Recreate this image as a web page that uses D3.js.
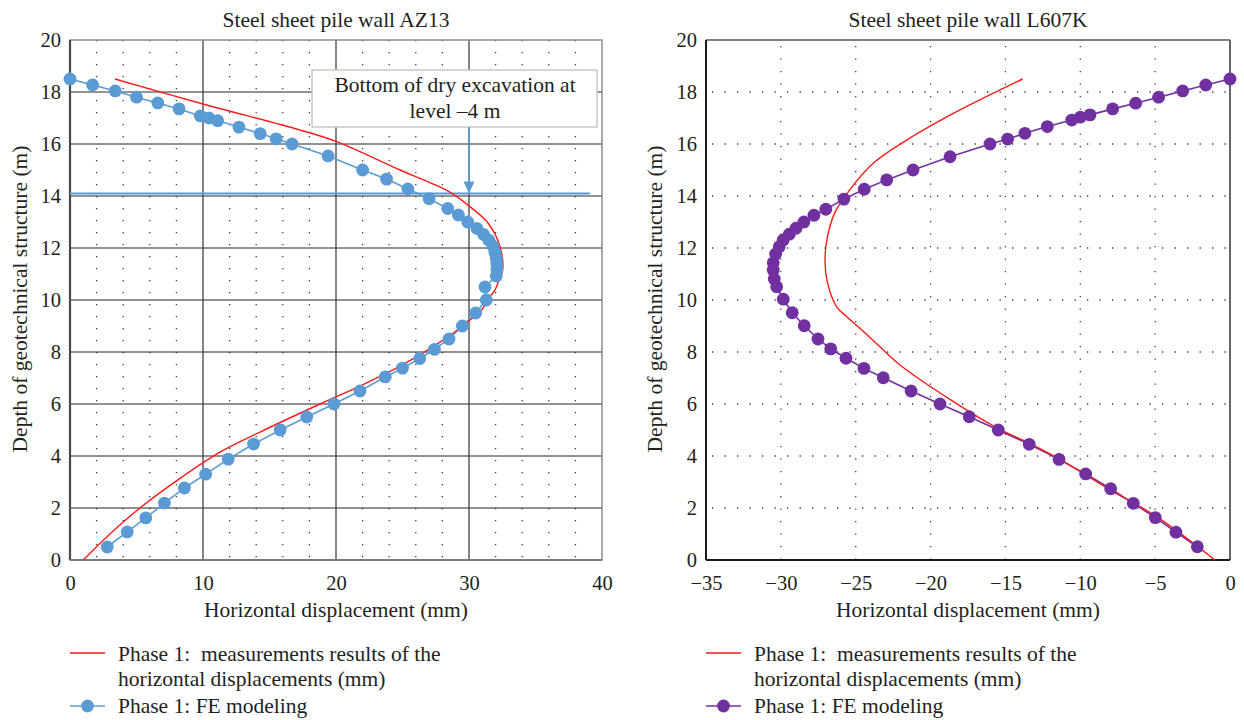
<!DOCTYPE html>
<html>
<head>
<meta charset="utf-8">
<script src="https://cdn.jsdelivr.net/npm/d3@7"></script>
<style>
body { margin: 0; background: #fff; }
text { font-family: "Liberation Serif", "DejaVu Serif", serif; fill: #231f20; }
</style>
</head>
<body>
<svg id="chart" width="1244" height="720"></svg>
<script>
// depth ticks (m) shared by both panels
var depthTicks = [0, 2, 4, 6, 8, 10, 12, 14, 16, 18, 20];
var azTicks = [0, 10, 20, 30, 40];
var lTicks = [-35, -30, -25, -20, -15, -10, -5, 0];

// AZ13: FE modeling [displacement mm, depth m]
var azFE = [
    [0, 18.5], [1.7, 18.27], [3.4, 18.04], [5.0, 17.8], [6.6, 17.58], [8.2, 17.35],
    [9.8, 17.08], [10.45, 17.0], [11.1, 16.9], [12.7, 16.65], [14.3, 16.4], [15.5, 16.2],
    [16.7, 16.0], [19.4, 15.54], [22.0, 15.0], [23.8, 14.65], [25.4, 14.27], [27.0, 13.9],
    [28.4, 13.52], [29.2, 13.27], [29.9, 13.0], [30.6, 12.75], [31.1, 12.52], [31.5, 12.3],
    [31.8, 12.07], [31.95, 11.84], [32.05, 11.6], [32.1, 11.38], [32.1, 11.15], [32.05, 10.92],
    [31.2, 10.5], [31.3, 10.0], [30.5, 9.5], [29.5, 9.0], [28.5, 8.5], [27.4, 8.1],
    [26.3, 7.75], [25.0, 7.38], [23.7, 7.04], [21.8, 6.5], [19.85, 6.0], [17.8, 5.5],
    [15.8, 5.0], [13.8, 4.46], [11.9, 3.88], [10.2, 3.3], [8.6, 2.77], [7.1, 2.19],
    [5.7, 1.62], [4.3, 1.08], [2.8, 0.5]
];

// AZ13: measurement results
var azMeasured = [
    [3.38, 18.5], [10.0, 17.54], [17.29, 16.54], [20.05, 16.09], [24.81, 15.0], [27.32, 14.46],
    [28.72, 14.1], [29.92, 13.65], [31.43, 12.96], [32.33, 12.05], [32.53, 11.15], [32.26, 10.77],
    [31.95, 10.38], [31.58, 10.13], [30.95, 9.62], [30.08, 9.23], [28.8, 8.72], [27.67, 8.33],
    [26.07, 7.82], [24.29, 7.31], [21.8, 6.69], [18.8, 6.0], [14.29, 4.92], [11.28, 4.15],
    [8.27, 3.14], [5.26, 2.0], [3.0, 1.0], [1.0, 0]
];

// L607K: FE modeling
var lFE = [
    [0, 18.5], [-1.62, 18.27], [-3.16, 18.04], [-4.77, 17.8], [-6.3, 17.57], [-7.84, 17.35],
    [-9.35, 17.12], [-10.0, 17.03], [-10.57, 16.92], [-12.2, 16.67], [-13.7, 16.41], [-14.85, 16.19],
    [-16.03, 16.0], [-18.7, 15.51], [-21.17, 15.0], [-22.93, 14.62], [-24.43, 14.26], [-25.79, 13.88],
    [-27.0, 13.49], [-27.79, 13.26], [-28.46, 13.0], [-28.99, 12.76], [-29.44, 12.53], [-29.84, 12.31],
    [-30.11, 12.05], [-30.35, 11.77], [-30.51, 11.43], [-30.51, 11.15], [-30.44, 10.81], [-30.28, 10.51],
    [-29.84, 10.03], [-29.24, 9.51], [-28.44, 9.01], [-27.52, 8.5], [-26.67, 8.12], [-25.65, 7.76],
    [-24.45, 7.37], [-23.16, 7.01], [-21.3, 6.5], [-19.37, 6.0], [-17.42, 5.51], [-15.48, 5.0],
    [-13.41, 4.45], [-11.42, 3.87], [-9.64, 3.31], [-7.97, 2.74], [-6.46, 2.18], [-4.99, 1.63],
    [-3.61, 1.07], [-2.18, 0.51]
];

// L607K: measurement results
var lMeasured = [
    [-13.85, 18.5], [-18.04, 17.31], [-21.6, 16.15], [-23.83, 15.26], [-25.45, 14.2], [-26.4, 13.35],
    [-26.9, 12.4], [-27.05, 11.5], [-26.9, 10.7], [-26.27, 9.74], [-25.6, 9.36], [-24.72, 8.91],
    [-23.38, 8.2], [-22.04, 7.5], [-18.5, 6.1], [-15.5, 5.06], [-13.4, 4.49], [-11.5, 3.92],
    [-7.8, 2.63], [-4.9, 1.67], [-1.0, 0]
];

var excavationLevel = 14.1;
var excavationArrowX = 30;
var excavationLineEnd = 39.1;

var blue = "#5b9bd5", purple = "#7030a0", red = "#ff1a1a";
var labelSize = "21.5px";

var svg = d3.select("#chart");

function drawPanel(p) {
    var x = d3.scaleLinear().domain(p.xDomain).range([p.left, p.right]);
    var y = d3.scaleLinear().domain([0, 20]).range([560, 40]);
    var g = svg.append("g");

    if (p.style === "az") {
        // dotted minor verticals every 2 mm
        var minor = d3.range(2, 40, 2).filter(function(d) { return d % 10 !== 0; });
        g.selectAll(".minor").data(minor).enter().append("line")
            .attr("x1", x).attr("x2", x).attr("y1", y(20)).attr("y2", y(0))
            .attr("stroke", "#3a3a3a").attr("stroke-width", 1.3)
            .attr("stroke-dasharray", "1.3,10.7");
        g.selectAll(".hmaj").data(depthTicks.slice(1, -1)).enter().append("line")
            .attr("x1", x(0)).attr("x2", x(40)).attr("y1", y).attr("y2", y)
            .attr("stroke", "#262626").attr("stroke-width", 1);
        g.selectAll(".vmaj").data(azTicks.slice(1, -1)).enter().append("line")
            .attr("x1", x).attr("x2", x).attr("y1", y(20)).attr("y2", y(0))
            .attr("stroke", "#333").attr("stroke-width", 1.2);
        g.append("rect")
            .attr("x", x(0)).attr("y", y(20)).attr("width", x(40) - x(0)).attr("height", y(0) - y(20))
            .attr("fill", "none").attr("stroke", "#8c8c8c").attr("stroke-width", 1.5);
        g.append("line").attr("x1", x(0)).attr("x2", x(0)).attr("y1", y(20)).attr("y2", y(0))
            .attr("stroke", "#4a4a4a").attr("stroke-width", 2.2);
        g.append("line").attr("x1", x(0)).attr("x2", x(40)).attr("y1", y(0)).attr("y2", y(0))
            .attr("stroke", "#7a7a7a").attr("stroke-width", 2);
    } else {
        g.selectAll(".hdot").data(depthTicks.slice(1, -1)).enter().append("line")
            .attr("x1", x(-35)).attr("x2", x(0)).attr("y1", y).attr("y2", y)
            .attr("stroke", "#3a3a3a").attr("stroke-width", 1.3)
            .attr("stroke-dasharray", "1.3,11.2").attr("stroke-dashoffset", -6);
        g.selectAll(".vdot").data(lTicks.slice(1, -1)).enter().append("line")
            .attr("x1", x).attr("x2", x).attr("y1", y(20)).attr("y2", y(0))
            .attr("stroke", "#3a3a3a").attr("stroke-width", 1.3)
            .attr("stroke-dasharray", "1.3,11.2").attr("stroke-dashoffset", -6);
        g.append("line").attr("x1", x(-35)).attr("x2", x(0)).attr("y1", y(20)).attr("y2", y(20))
            .attr("stroke", "#555").attr("stroke-width", 1.5);
        g.append("line").attr("x1", x(0)).attr("x2", x(0)).attr("y1", y(20)).attr("y2", y(0))
            .attr("stroke", "#666").attr("stroke-width", 2);
        g.append("line").attr("x1", x(-35)).attr("x2", x(-35)).attr("y1", y(20)).attr("y2", y(0))
            .attr("stroke", "#1a1a1a").attr("stroke-width", 2);
        g.append("line").attr("x1", x(-35)).attr("x2", x(0)).attr("y1", y(0)).attr("y2", y(0))
            .attr("stroke", "#1a1a1a").attr("stroke-width", 2);
    }

    // axes
    var ya = g.append("g").attr("transform", "translate(" + p.left + ",0)")
        .call(d3.axisLeft(y).tickValues(depthTicks).tickSize(0).tickPadding(9));
    var xa = g.append("g").attr("transform", "translate(0,560)")
        .call(d3.axisBottom(x).tickValues(p.ticks).tickSize(0).tickPadding(15));
    [ya, xa].forEach(function(a) {
        a.select(".domain").remove();
        a.selectAll("text").style("font-size", "20.5px")
            .style("font-family", "'Liberation Serif', serif").attr("fill", "#231f20");
    });

    var cx = (p.left + p.right) / 2;
    g.append("text").attr("x", cx).attr("y", 27).attr("text-anchor", "middle")
        .style("font-size", labelSize).text(p.title);
    g.append("text").attr("x", cx).attr("y", 617).attr("text-anchor", "middle")
        .style("font-size", labelSize).text("Horizontal displacement (mm)");
    g.append("text").attr("transform", "translate(" + p.yLabelX + ",299) rotate(-90)")
        .attr("text-anchor", "middle").style("font-size", labelSize)
        .text("Depth of geotechnical structure (m)");

    if (p.style === "az") {
        // excavation annotation
        g.append("rect").attr("x", 312).attr("y", 70).attr("width", 285).attr("height", 57)
            .attr("fill", "#fff").attr("stroke", "#c8c8c8").attr("stroke-width", 1.5);
        g.append("text").attr("x", 455).attr("y", 92).attr("text-anchor", "middle")
            .style("font-size", labelSize).text("Bottom of dry excavation at");
        g.append("text").attr("x", 455).attr("y", 118).attr("text-anchor", "middle")
            .style("font-size", labelSize).text("level \u20134 m");
        g.append("line").attr("x1", x(0)).attr("x2", x(excavationLineEnd))
            .attr("y1", y(excavationLevel)).attr("y2", y(excavationLevel))
            .attr("stroke", blue).attr("stroke-width", 2);
        var ax = x(excavationArrowX), ay = y(excavationLevel);
        g.append("line").attr("x1", ax).attr("x2", ax).attr("y1", 127).attr("y2", ay - 10)
            .attr("stroke", blue).attr("stroke-width", 1.5);
        g.append("path").attr("d", "M" + (ax - 5.5) + "," + (ay - 12) + "L" + (ax + 5.5) + "," + (ay - 12) + "L" + ax + "," + ay + "Z")
            .attr("fill", blue);
    }

    var line = d3.line().x(function(d) { return x(d[0]); }).y(function(d) { return y(d[1]); });
    g.append("path").datum(p.fe).attr("d", line)
        .attr("fill", "none").attr("stroke", p.color).attr("stroke-width", 1.6);
    g.append("path").datum(p.measured).attr("d", line.curve(d3.curveCatmullRom.alpha(0.5)))
        .attr("fill", "none").attr("stroke", red).attr("stroke-width", 1.4);
    g.selectAll(".pt").data(p.fe).enter().append("circle")
        .attr("cx", function(d) { return x(d[0]); }).attr("cy", function(d) { return y(d[1]); })
        .attr("r", 6.4).attr("fill", p.color);

    // legend
    var lx = p.left;
    var lg = g.append("g");
    lg.append("line").attr("x1", lx).attr("x2", lx + 35).attr("y1", 653).attr("y2", 653)
        .attr("stroke", red).attr("stroke-width", 1.3);
    lg.append("line").attr("x1", lx).attr("x2", lx + 35).attr("y1", 706).attr("y2", 706)
        .attr("stroke", p.color).attr("stroke-width", 1.6);
    lg.append("circle").attr("cx", lx + 17.5).attr("cy", 706).attr("r", 6.4).attr("fill", p.color);
    lg.append("text").attr("x", lx + 48).attr("y", 661).style("white-space", "pre")
        .style("font-size", labelSize).text("Phase 1:  measurements results of the");
    lg.append("text").attr("x", lx + 48).attr("y", 686)
        .style("font-size", labelSize).text("horizontal displacements (mm)");
    lg.append("text").attr("x", lx + 48).attr("y", 713)
        .style("font-size", labelSize).text("Phase 1: FE modeling");
}

drawPanel({
    style: "az", title: "Steel sheet pile wall AZ13", xDomain: [0, 40], ticks: azTicks,
    left: 70, right: 602, yLabelX: 27, fe: azFE, measured: azMeasured, color: blue
});
drawPanel({
    style: "l", title: "Steel sheet pile wall L607K", xDomain: [-35, 0], ticks: lTicks,
    left: 706, right: 1230, yLabelX: 662, fe: lFE, measured: lMeasured, color: purple
});
</script>
</body>
</html>
